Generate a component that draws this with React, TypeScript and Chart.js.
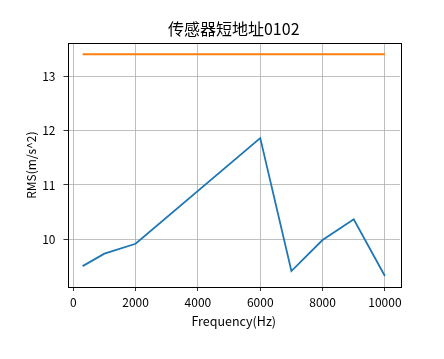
import React, { useEffect, useRef } from "react";
import { Chart, registerables } from "chart.js";

Chart.register(...registerables);

const titleText = "传感器短地址0102";
const xTitle = "Frequency(Hz)";
const yTitle = "RMS(m/s^2)";
const frequencies = [300, 1000, 2000, 6000, 7000, 8000, 9000, 10000];
const rmsValues = [9.51, 9.74, 9.92, 11.86, 9.42, 9.99, 10.37, 9.33];
const thresholdX = [300, 10000];
const thresholdY = [13.4, 13.4];
const xTicks = [0, 2000, 4000, 6000, 8000, 10000];
const yTicks = [10, 11, 12, 13];

const FONT = "'Noto Sans CJK SC', 'DejaVu Sans', sans-serif";

const framePlugin = {
  id: "frame",
  afterDraw(chart: any) {
    const { ctx, chartArea } = chart;
    ctx.save();
    ctx.strokeStyle = "#000";
    ctx.lineWidth = 1;
    ctx.strokeRect(
      Math.round(chartArea.left) + 0.5,
      Math.round(chartArea.top) + 0.5,
      Math.round(chartArea.right - chartArea.left),
      Math.round(chartArea.bottom - chartArea.top)
    );
    ctx.restore();
  },
};

export default function App() {
  const ref = useRef<HTMLCanvasElement | null>(null);
  useEffect(() => {
    document.body.style.margin = "0";
    const canvas = ref.current!;
    const chart = new Chart(canvas, {
      type: "line",
      data: {
        datasets: [
          {
            data: frequencies.map((f, i) => ({ x: f, y: rmsValues[i] })),
            borderColor: "#1f77b4",
            borderWidth: 1.8,
            pointRadius: 0,
            tension: 0,
            fill: false,
          },
          {
            data: thresholdX.map((f, i) => ({ x: f, y: thresholdY[i] })),
            borderColor: "#ff7f0e",
            borderWidth: 1.8,
            pointRadius: 0,
            tension: 0,
            fill: false,
          },
        ],
      },
      options: {
        animation: false,
        responsive: false,
        maintainAspectRatio: false,
        layout: { padding: { left: 0, right: 44, top: 0, bottom: 0 } },
        plugins: {
          legend: { display: false },
          tooltip: { enabled: false },
          title: {
            display: true,
            fullSize: false,
            text: titleText,
            color: "#000",
            font: { family: FONT, size: 16, weight: "normal" },
            padding: { top: 19, bottom: 5 },
          },
        },
        scales: {
          x: {
            type: "linear",
            min: -185,
            max: 10485,
            afterBuildTicks: (scale: any) => {
              scale.ticks = xTicks.map((v) => ({ value: v }));
            },
            afterFit: (scale: any) => {
              scale.height = 72;
            },
            grid: {
              color: "#b0b0b0",
              lineWidth: 0.8,
              tickColor: "#000",
              tickLength: 4,
              drawTicks: true,
            },
            border: { display: false },
            ticks: {
              color: "#000",
              font: { family: FONT, size: 12 },
              padding: 4,
              maxRotation: 0,
              callback: (v: any) => String(v),
            },
            title: {
              display: true,
              text: xTitle,
              color: "#000",
              font: { family: FONT, size: 12.5 },
              padding: { top: 0, bottom: 30 },
            },
          },
          y: {
            type: "linear",
            min: 9.127,
            max: 13.603,
            afterBuildTicks: (scale: any) => {
              scale.ticks = yTicks.map((v) => ({ value: v }));
            },
            afterFit: (scale: any) => {
              scale.width = 67.5;
            },
            grid: {
              color: "#b0b0b0",
              lineWidth: 0.8,
              tickColor: "#000",
              tickLength: 4,
              drawTicks: true,
            },
            border: { display: false },
            ticks: {
              color: "#000",
              font: { family: FONT, size: 12 },
              padding: 8,
              callback: (v: any) => String(v),
            },
            title: {
              display: true,
              text: yTitle,
              color: "#000",
              font: { family: FONT, size: 12 },
              padding: { top: 24, bottom: 0 },
            },
          },
        },
      },
      plugins: [framePlugin],
    });
    return () => chart.destroy();
  }, []);
  return (
    <div style={{ width: 444, height: 359 }}>
      <canvas ref={ref} width={444} height={359} style={{ display: "block" }} />
    </div>
  );
}
